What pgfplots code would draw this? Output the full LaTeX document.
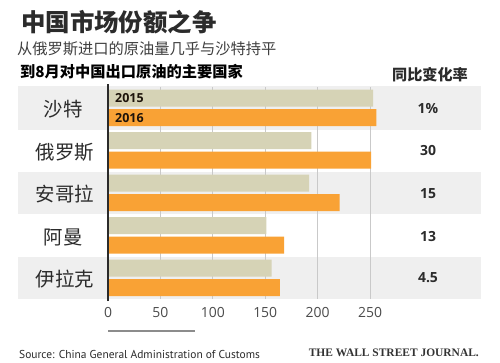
\documentclass[border=0pt]{standalone}
\usepackage{pgfplots}
\pgfplotsset{compat=1.18}
\usepackage{fontspec}
\setmainfont{Open Sans}
\newfontfamily\cjk{Noto Sans CJK SC}
\newfontfamily\srcfont{PT Sans}
\newfontfamily\wsj{Liberation Serif}
\definecolor{beige}{HTML}{D6D3B6}
\definecolor{orng}{HTML}{F9A235}
\definecolor{band}{HTML}{EFEFEF}
\definecolor{txt}{HTML}{2B2B2B}
\definecolor{gridc}{HTML}{C9C9C9}
\pgfplotstableread{
y v2015 v2016
5 253 256
4 194 251
3 192 221
2 151 168
1 156 164
}\oil
\begin{document}
\begin{tikzpicture}
\begin{scope}[x=1bp,y=-1bp]
\fill[white] (0,0) rectangle (500,362);
% alternating row bands
\fill[band] (18,86) rectangle (481,130);
\fill[band] (18,172) rectangle (481,214);
\fill[band] (18,257) rectangle (481,299);
\end{scope}
\begin{axis}[
  at={(108bp,-299bp)}, anchor=south west,
  scale only axis, width=272.5bp, height=212.5bp,
  xmin=0, xmax=260, ymin=0.5, ymax=5.5,
  xbar, bar width=17bp,
  axis line style={draw=none},
  xtick={0,50,100,150,200,250}, ytick=\empty,
  major tick length=0pt,
  /pgf/number format/assume math mode=true,
  xmajorgrids, grid style={gridc, line width=0.8pt},
  xticklabel style={font=\fontsize{14}{14}\selectfont, text=txt!85, yshift=-5bp},
  clip=false,
]
\addplot[fill=beige, draw=none, bar shift=9.75bp] table[x=v2015, y=y] {\oil};
\addplot[fill=orng, draw=none, bar shift=-9.75bp] table[x=v2016, y=y] {\oil};
\draw[txt, line width=1.3pt] (axis cs:0,0.45) -- (axis cs:0,5.55);
\end{axis}
\begin{scope}[x=1bp,y=-1bp]
\node[anchor=west, inner sep=0, text=txt] at (21,22) {\cjk\bfseries\fontsize{24.5}{24.5}\selectfont 中国市场份额之争};
\node[anchor=west, inner sep=0, text=txt!90] at (17,49) {\cjk\fontsize{15.3}{15.3}\selectfont 从俄罗斯进口的原油量几乎与沙特持平};
\node[anchor=west, inner sep=0, text=black] at (20,72) {\cjk\bfseries\fontsize{15.3}{15.3}\selectfont 到8月对中国出口原油的主要国家};
\node[inner sep=0, text=txt] at (430,75) {\cjk\bfseries\fontsize{15.2}{15.2}\selectfont 同比变化率};
% row labels
\node[inner sep=0, text=txt] at (63,109) {\cjk\fontsize{19.5}{19.5}\selectfont 沙特};
\node[inner sep=0, text=txt] at (65,152) {\cjk\fontsize{19.5}{19.5}\selectfont 俄罗斯};
\node[inner sep=0, text=txt] at (65,194) {\cjk\fontsize{19.5}{19.5}\selectfont 安哥拉};
\node[inner sep=0, text=txt] at (63,237) {\cjk\fontsize{19.5}{19.5}\selectfont 阿曼};
\node[inner sep=0, text=txt] at (65,279) {\cjk\fontsize{19.5}{19.5}\selectfont 伊拉克};
% year labels
\node[anchor=west, inner sep=0, text=black!85!brown] at (115,98.5) {\fontseries{sb}\fontsize{12.5}{12.5}\selectfont 2015};
\node[anchor=west, inner sep=0, text=black!85!brown] at (115,118) {\fontseries{sb}\fontsize{12.5}{12.5}\selectfont 2016};
% change column
\node[inner sep=0, text=txt] at (428,109) {\bfseries\fontsize{14}{14}\selectfont 1\%};
\node[inner sep=0, text=txt] at (428,151) {\bfseries\fontsize{14}{14}\selectfont 30};
\node[inner sep=0, text=txt] at (428,194) {\bfseries\fontsize{14}{14}\selectfont 15};
\node[inner sep=0, text=txt] at (428,237) {\bfseries\fontsize{14}{14}\selectfont 13};
\node[inner sep=0, text=txt] at (428,278) {\bfseries\fontsize{14}{14}\selectfont 4.5};
% short rule and footer
\draw[black!45, line width=1.5pt] (108,331) -- (195,331);
\node[anchor=west, inner sep=0, text=txt] at (19,354) {\srcfont\fontsize{11.5}{11.5}\selectfont Source: China General Administration of Customs};
\node[anchor=east, inner sep=0, text=black!80] at (479,353) {\wsj\bfseries\fontsize{11.5}{11.5}\selectfont THE WALL STREET JOURNAL.};
\end{scope}
\end{tikzpicture}
\end{document}
